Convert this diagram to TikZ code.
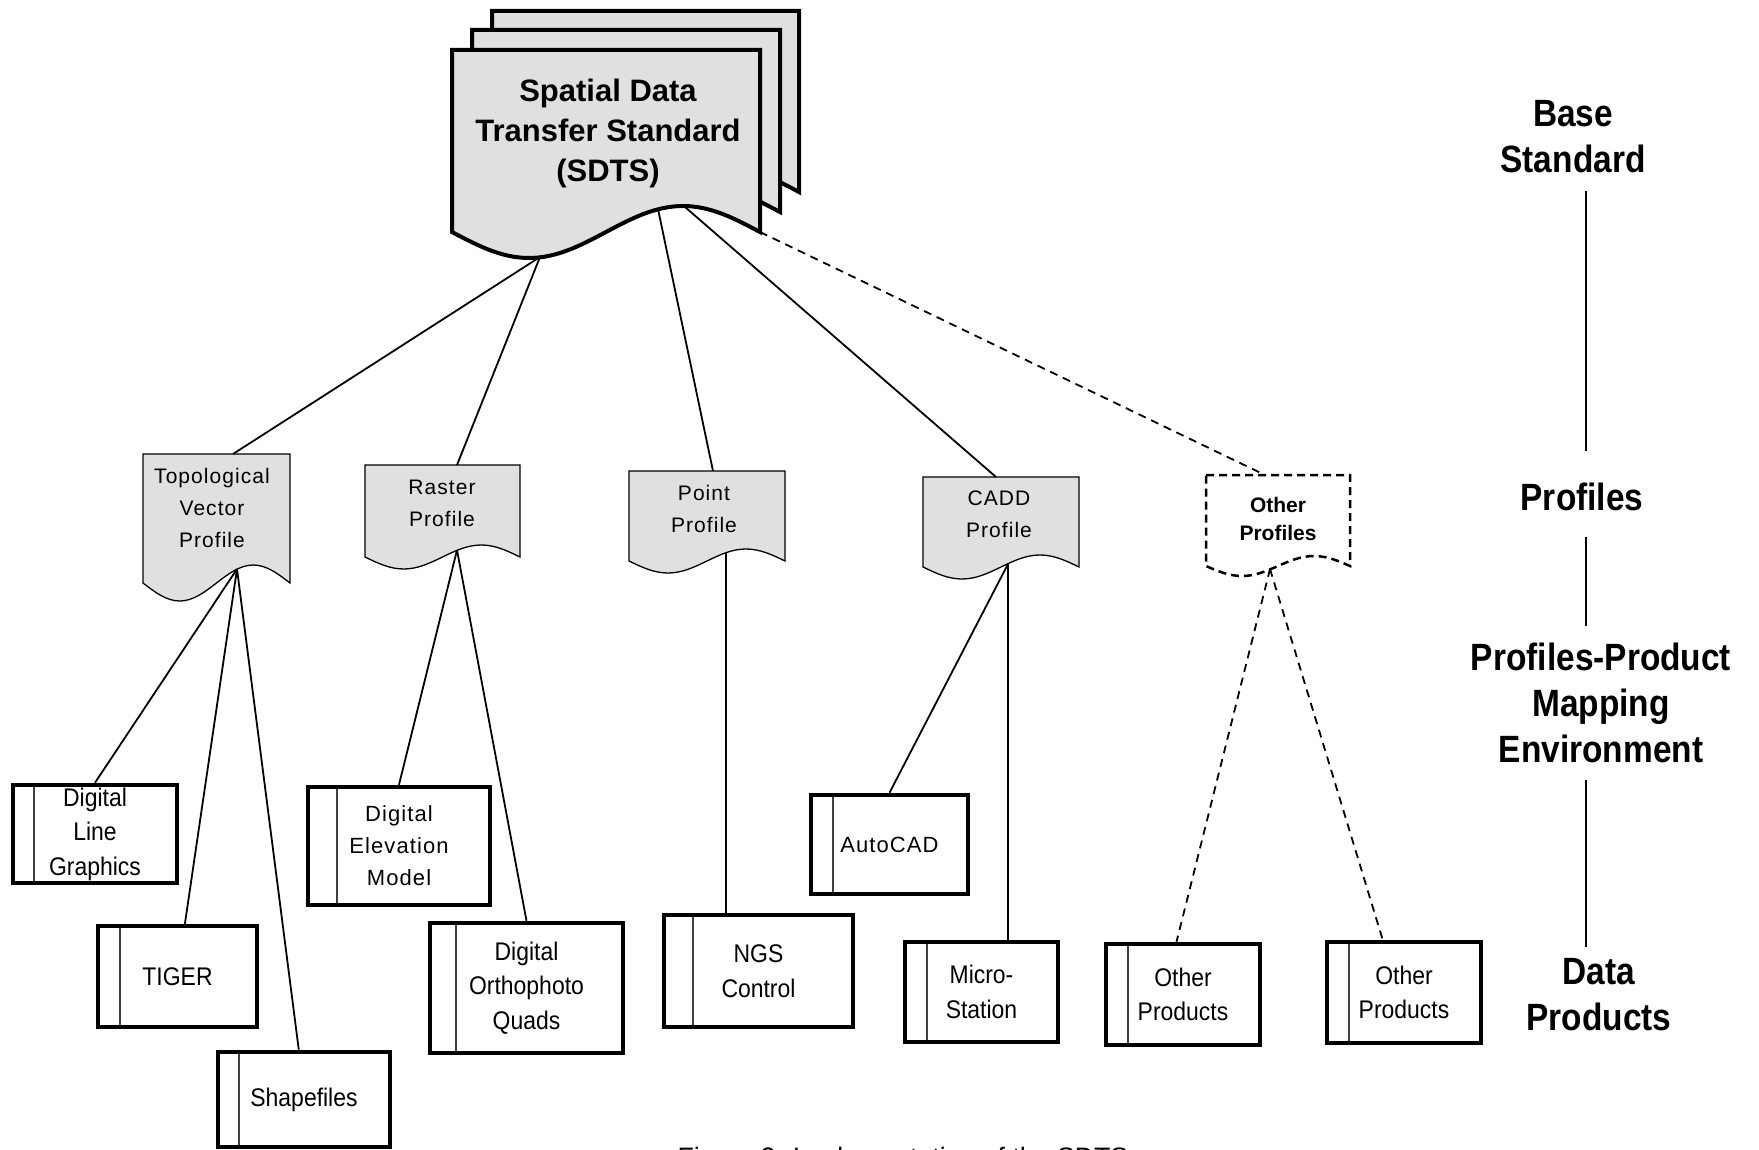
\documentclass[tikz,border=0pt]{standalone}
\usepackage{fontspec}
\setmainfont{Liberation Sans}
\newfontfamily\narrowfont[FakeStretch=0.9]{Liberation Sans}
\newfontfamily\widefont[LetterSpace=5]{Liberation Sans}
\newfontfamily\headfont[FakeStretch=0.88]{Liberation Sans}
\usepackage{tikz}
\definecolor{docgray}{RGB}{224,224,224}

% document sheet: [style]{left}{top}{right}{bottom}{wave}
\newcommand\docshape[6][]{%
  \draw[#1] (#2,#3) -- (#4,#3) -- (#4,#5)
    sin ({#2+0.75*(#4-#2)},{#5-#6}) cos ({#2+0.5*(#4-#2)},#5)
    sin ({#2+0.25*(#4-#2)},{#5+#6}) cos (#2,#5) -- cycle;}

\begin{document}
\begin{tikzpicture}[x=1pt,y=-1pt,
  line/.style={line width=1.8pt},
  dline/.style={line width=1.8pt,dash pattern=on 8pt off 6pt},
  sdtsdoc/.style={draw,line width=4pt,fill=docgray},
  profdoc/.style={draw,line width=1.3pt,fill=docgray},
  otherdoc/.style={draw,line width=2.5pt,dash pattern=on 8pt off 5pt},
  prof/.style={inner sep=0pt,align=center,font=\widefont\fontsize{21}{32}\selectfont},
  prod/.style={draw,line width=4.5pt,inner sep=0pt,align=center,
    font=\narrowfont\fontsize{25.5}{34.5}\selectfont,
    path picture={\draw[line width=1.5pt,black!75]
      ([xshift=#1]path picture bounding box.north west) --
      ([xshift=#1]path picture bounding box.south west);}},
  prod/.default=22pt,
  level/.style={inner sep=0pt,align=center,font=\headfont\bfseries\fontsize{38}{46}\selectfont},
  rule/.style={line width=2.5pt}]
  \useasboundingbox (0,0) rectangle (1759,1150);

  % base standard
  \docshape[sdtsdoc]{492}{11}{799}{192}{26}
  \docshape[sdtsdoc]{472}{30}{780}{212}{26}
  \docshape[sdtsdoc]{452}{50}{760}{232}{26}
  \node[inner sep=0pt,align=center,font=\bfseries\fontsize{31}{40}\selectfont] (sdts)
    at (608,133) {Spatial Data\\Transfer Standard\\(SDTS)};

  % profiles
  \docshape[profdoc]{143}{454}{290}{583}{18}
  \node[prof] (topo) at (212,507.5) {Topological\\Vector\\Profile};
  \docshape[profdoc]{365}{465}{520}{557}{12}
  \node[prof] (raster) at (442,503.5) {Raster\\Profile};
  \docshape[profdoc]{629}{471}{785}{561}{12}
  \node[prof] (point) at (704,508.5) {Point\\Profile};
  \docshape[profdoc]{923}{477}{1079}{567}{12}
  \node[prof] (cadd) at (999,514.5) {CADD\\Profile};
  \docshape[otherdoc]{1206}{475}{1350}{566}{10}
  \node[prof,font=\bfseries\fontsize{21}{28}\selectfont] (others) at (1278,518.5) {Other\\Profiles};

  % data products
  \node[prod=21pt,minimum width=164pt,minimum height=98pt] (dlg) at (95,834) {Digital\\Line\\Graphics};
  \node[prod,minimum width=159pt,minimum height=101pt] (tiger) at (177.5,976.5) {TIGER};
  \node[prod=21pt,minimum width=172pt,minimum height=95pt] (shape) at (304,1099.5) {Shapefiles};
  \node[prod=29pt,minimum width=182pt,minimum height=118pt,
    font=\widefont\fontsize{22}{32}\selectfont] (dem) at (399,846) {Digital\\Elevation\\Model};
  \node[prod=26pt,minimum width=193pt,minimum height=130pt] (doq) at (526.5,988) {Digital\\Orthophoto\\Quads};
  \node[prod=29pt,minimum width=189pt,minimum height=112pt] (ngs) at (758.5,971) {NGS\\Control};
  \node[prod,minimum width=157pt,minimum height=99pt,
    font=\widefont\fontsize{22}{32}\selectfont] (autocad) at (889.5,844.5) {AutoCAD};
  \node[prod,minimum width=153pt,minimum height=100pt] (micro) at (981.5,992) {Micro-\\Station};
  \node[prod,minimum width=154pt,minimum height=101pt] (prodA) at (1183,994.5) {Other\\Products};
  \node[prod,minimum width=154pt,minimum height=101pt] (prodB) at (1404,992.5) {Other\\Products};

  % where the lines meet the sheets
  \coordinate (sdts-a) at (540,257);
  \coordinate (sdts-b) at (658,209);
  \coordinate (sdts-c) at (685,207);
  \coordinate (sdts-d) at (760,232);
  \coordinate (topo-in) at (233,454);
  \coordinate (topo-out) at (237,569);
  \coordinate (raster-in) at (457,465);
  \coordinate (raster-out) at (457,550);
  \coordinate (point-in) at (713,471);
  \coordinate (point-out) at (726,553);
  \coordinate (cadd-in) at (996,477);
  \coordinate (cadd-out) at (1008,564);
  \coordinate (others-in) at (1265,475);
  \coordinate (others-out) at (1270,569);

  \draw[line] (sdts-a) -- (topo-in);
  \draw[line] (sdts-a) -- (raster-in);
  \draw[line] (sdts-b) -- (point-in);
  \draw[line] (sdts-c) -- (cadd-in);
  \draw[dline] (sdts-d) -- (others-in);
  \draw[line] (topo-out) -- (dlg.north);
  \draw[line] (topo-out) -- (tiger.82);
  \draw[line] (topo-out) -- (shape.96);
  \draw[line] (raster-out) -- (dem.north);
  \draw[line] (raster-out) -- (doq.north);
  \draw[line] (point-out) -- (point-out |- ngs.north);
  \draw[line] (cadd-out) -- (autocad.north);
  \draw[line] (cadd-out) -- (cadd-out |- micro.north);
  \draw[dline] (others-out) -- (prodA.97);
  \draw[dline] (others-out) -- (prodB.112);

  % levels
  \node[level] (base) at (1573,136.5) {Base\\Standard};
  \node[level] (profiles) at (1582,496.5) {Profiles};
  \node[level] (mapping) at (1601,703) {Profiles-Product\\Mapping\\Environment};
  \node[level] (products) at (1599,995) {Data\\Products};
  \coordinate (rule-x) at (1586,0);
  \draw[rule,shorten <=18pt,shorten >=31pt] (base.south -| rule-x) -- (profiles.north -| rule-x);
  \draw[rule,shorten <=26pt,shorten >=17pt] (profiles.south -| rule-x) -- (mapping.north -| rule-x);
  \draw[rule,shorten <=17pt,shorten >=12pt] (mapping.south -| rule-x) -- (products.north -| rule-x);

  \node[anchor=base,font=\fontsize{26.7}{32}\selectfont] (caption) at (903,1166)
    {Figure 2. Implementation of the SDTS};
\end{tikzpicture}
\end{document}
